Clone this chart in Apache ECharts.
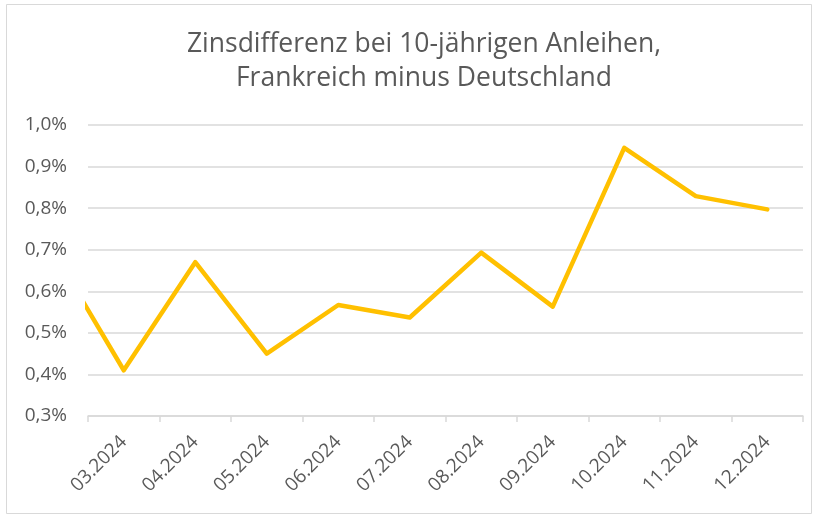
<!DOCTYPE html>
<html>
<head>
<meta charset="utf-8">
<script src="https://cdn.jsdelivr.net/npm/echarts@6/dist/echarts.min.js"></script>
<style>
  html, body { margin: 0; padding: 0; background: #fff; }
  #chart { width: 816px; height: 516px; }
</style>
</head>
<body>
<div id="chart"></div>
<script>
// months; 02.2024 only feeds the clipped start of the line
const months = ['02.2024', '03.2024', '04.2024', '05.2024', '06.2024', '07.2024',
  '08.2024', '09.2024', '10.2024', '11.2024', '12.2024'];
const spread = [0.70, 0.41, 0.67, 0.45, 0.567, 0.537, 0.693, 0.563, 0.945, 0.829, 0.797];
const yTicks = [0.3, 0.4, 0.5, 0.6, 0.7, 0.8, 0.9, 1.0];

const textColor = '#595959';
const gridColor = '#d9d9d9';
const font = '"Open Sans", "Noto Sans", sans-serif';

const chart = echarts.init(document.getElementById('chart'));

chart.setOption({
  backgroundColor: '#ffffff',
  animation: false,
  title: {
    text: 'Zinsdifferenz bei 10-jährigen Anleihen,\nFrankreich minus Deutschland',
    left: 419,
    textAlign: 'center',
    top: 22,
    textStyle: {
      color: textColor,
      fontFamily: font,
      fontSize: 26.5,
      fontWeight: 'normal',
      lineHeight: 34
    }
  },
  graphic: [{
    type: 'rect',
    shape: { x: 6.5, y: 4.5, width: 805, height: 509 },
    style: { fill: 'none', stroke: gridColor, lineWidth: 1 },
    silent: true
  }],
  grid: { left: 88, right: 13, top: 125, bottom: 100 },
  xAxis: {
    type: 'category',
    data: months,
    min: 1,
    max: months.length - 1,
    boundaryGap: true,
    axisLine: { lineStyle: { color: gridColor, width: 1.5 } },
    axisTick: { show: true, length: 6, lineStyle: { color: gridColor, width: 1.5 } },
    axisLabel: {
      rotate: 45,
      margin: 23,
      color: textColor,
      fontFamily: font,
      fontSize: 19
    }
  },
  yAxis: {
    type: 'value',
    min: yTicks[0],
    max: yTicks[yTicks.length - 1],
    interval: 0.1,
    axisLine: { show: false },
    axisTick: { show: false },
    splitLine: { lineStyle: { color: gridColor, width: 1.5 } },
    axisLabel: {
      margin: 21,
      color: textColor,
      fontFamily: font,
      fontSize: 19,
      formatter: v => v.toFixed(1).replace('.', ',') + '%'
    }
  },
  series: [{
    type: 'line',
    data: spread,
    clip: true,
    symbol: 'none',
    lineStyle: { color: '#ffc000', width: 4.5, cap: 'round', join: 'round' }
  }]
});
</script>
</body>
</html>
